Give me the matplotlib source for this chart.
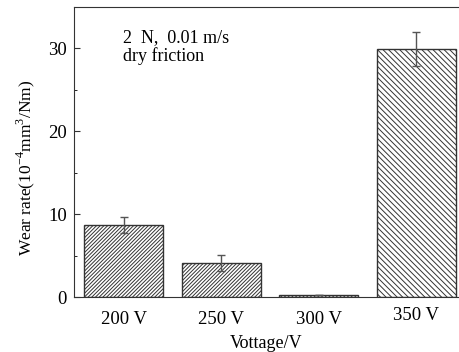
import numpy as np
import matplotlib
matplotlib.use('Agg')
import matplotlib.pyplot as plt

voltages = ['200 V', '250 V', '300 V', '350 V']
wear_rate = [8.7, 4.1, 0.2, 29.9]
wear_err = [1.0, 0.95, 0.0, 2.05]
hatches = ['/' * 9, '/' * 9, '/' * 9, '\\' * 6]

plt.rcParams['font.family'] = 'Liberation Serif'
plt.rcParams['mathtext.fontset'] = 'custom'
plt.rcParams['mathtext.rm'] = 'Liberation Serif'
plt.rcParams['hatch.linewidth'] = 0.7

fig = plt.figure(figsize=(4.59, 3.52), dpi=100)
ax = fig.add_axes([74 / 459, 55 / 352, 385 / 459, 290 / 352])

x = np.arange(len(voltages))
for i in range(len(voltages)):
    ax.bar(x[i], wear_rate[i], width=0.81, color='white', edgecolor='#333333',
           linewidth=1.0, hatch=hatches[i])
ax.errorbar(x, wear_rate, yerr=wear_err, fmt='none', ecolor='#555555',
            elinewidth=1.0, capsize=3, capthick=1.0)

ax.set_xlim(-0.508, 3.44)
ax.set_ylim(0, 35)
ax.set_xticks(x)
ax.set_xticklabels(voltages, fontsize=13.5)
ax.set_yticks([0, 10, 20, 30])
ax.set_yticks([5, 15, 25], minor=True)
ax.tick_params(axis='y', direction='in', labelsize=13.5, length=4, color='#333333', pad=5)
ax.tick_params(axis='y', which='minor', direction='in', length=2.5)
ax.tick_params(axis='x', length=0, pad=10)
ax.get_xticklabels()[3].set_y(0.012)

for s in ['left', 'top', 'bottom']:
    ax.spines[s].set_color('#333333')
ax.spines['right'].set_visible(False)

ax.set_xlabel('Vottage/V', fontsize=13, labelpad=5)
ax.set_ylabel('Wear rate(10$^{-4}$mm$^3$/Nm)', fontsize=12.5)
ax.yaxis.set_label_coords(-0.096, 0.445)

ax.text(-0.01, 32.3, '2  N,  0.01 m/s\ndry friction', fontsize=13,
        va='top', ha='left', linespacing=1.05)

plt.savefig('out.png', dpi=100)
